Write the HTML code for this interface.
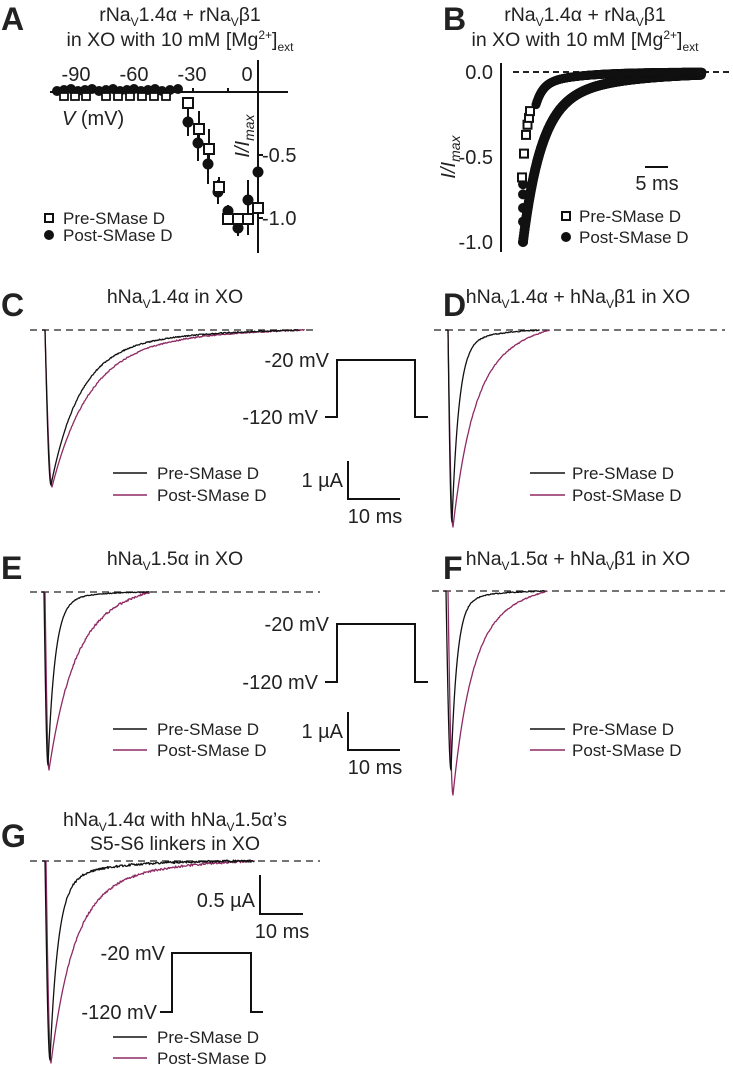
<!DOCTYPE html>
<html><head><meta charset="utf-8">
<style>
html,body{margin:0;padding:0;background:#fff;}
svg{display:block;font-family:"Liberation Sans",sans-serif;}
.t{font-size:19.5px;fill:#222;text-anchor:middle}
.L{font-size:32px;font-weight:bold;fill:#222}
.s{font-size:20px;fill:#222}
.lg{font-size:17px;fill:#222}
.ax{stroke:#111;stroke-width:2;fill:none}
.dash{stroke:#222;stroke-width:1.2;stroke-dasharray:7,5}
.bd{stroke:#222;stroke-width:2;stroke-dasharray:6,4}
</style></head><body>
<svg id="S" width="733" height="1065" viewBox="0 0 733 1065" xmlns="http://www.w3.org/2000/svg">
<!-- Panel A -->
<text class="L" x="1" y="30">A</text>
<text class="t" x="180" y="21">rNa<tspan font-size="12" dy="5">V</tspan><tspan dy="-5">1.4α + rNa</tspan><tspan font-size="12" dy="5">V</tspan><tspan dy="-5">β1</tspan></text>
<text class="t" x="180" y="46">in XO with 10 mM [Mg<tspan font-size="12" dy="-7">2+</tspan><tspan dy="7">]</tspan><tspan font-size="12" dy="5">ext</tspan></text>
<line class="ax" x1="50" y1="92" x2="288" y2="92"/>
<line class="ax" x1="258" y1="60" x2="258" y2="253"/>
<g class="ax" stroke-width="1.5">
<line x1="77" y1="88" x2="77" y2="92"/><line x1="135" y1="88" x2="135" y2="92"/><line x1="193" y1="88" x2="193" y2="92"/><line x1="228" y1="88" x2="228" y2="92"/>
<line x1="258" y1="155" x2="263" y2="155"/><line x1="258" y1="218" x2="263" y2="218"/>
</g>
<text class="s" x="76" y="81" text-anchor="middle">-90</text>
<text class="s" x="134" y="81" text-anchor="middle">-60</text>
<text class="s" x="192" y="81" text-anchor="middle">-30</text>
<text class="s" x="247" y="81" text-anchor="middle">0</text>
<text class="s" x="262" y="162">-0.5</text>
<text class="s" x="262" y="225">-1.0</text>
<text class="s" x="62" y="125"><tspan font-style="italic">V</tspan> (mV)</text>
<text class="s" transform="translate(249,136) rotate(-90)" text-anchor="middle" font-style="italic">I/I<tspan font-size="14" dy="5">max</tspan></text>
<g id="Apts"></g>
<rect x="45" y="214" width="8" height="8" fill="#fff" stroke="#111" stroke-width="2"/>
<text class="lg" x="63" y="224">Pre-SMase D</text>
<circle cx="49" cy="235" r="5" fill="#111"/>
<text class="lg" x="63" y="241">Post-SMase D</text>

<!-- Panel B -->
<text class="L" x="443" y="30">B</text>
<text class="t" x="585" y="21">rNa<tspan font-size="12" dy="5">V</tspan><tspan dy="-5">1.4α + rNa</tspan><tspan font-size="12" dy="5">V</tspan><tspan dy="-5">β1</tspan></text>
<text class="t" x="585" y="46">in XO with 10 mM [Mg<tspan font-size="12" dy="-7">2+</tspan><tspan dy="7">]</tspan><tspan font-size="12" dy="5">ext</tspan></text>
<line class="ax" x1="501" y1="63" x2="501" y2="252"/>
<line class="bd" x1="513" y1="72" x2="733" y2="72"/>
<text class="s" x="493" y="79" text-anchor="end">0.0</text>
<text class="s" x="493" y="164" text-anchor="end">-0.5</text>
<text class="s" x="493" y="249" text-anchor="end">-1.0</text>
<text class="s" transform="translate(455,157) rotate(-90)" text-anchor="middle" font-style="italic">I/I<tspan font-size="14" dy="5">max</tspan></text>
<g id="Bpts"></g>
<line class="ax" x1="645" y1="167" x2="668" y2="167"/>
<text class="s" x="657" y="190" text-anchor="middle">5 ms</text>
<rect x="562" y="212" width="8" height="8" fill="#fff" stroke="#111" stroke-width="2"/>
<text class="lg" x="579" y="222">Pre-SMase D</text>
<circle cx="566" cy="237" r="5" fill="#111"/>
<text class="lg" x="579" y="243">Post-SMase D</text>

<!-- Panel C -->
<text class="L" x="1" y="316">C</text>
<text class="t" x="175" y="303">hNa<tspan font-size="12" dy="5">V</tspan><tspan dy="-5">1.4α in XO</tspan></text>
<line class="dash" x1="30" y1="330" x2="318" y2="330"/>
<!-- Panel D -->
<text class="L" x="443" y="316">D</text>
<text class="t" x="578" y="303">hNa<tspan font-size="12" dy="5">V</tspan><tspan dy="-5">1.4α + hNa</tspan><tspan font-size="12" dy="5">V</tspan><tspan dy="-5">β1 in XO</tspan></text>
<line class="dash" x1="434" y1="330" x2="725" y2="330"/>
<!-- Panel E -->
<text class="L" x="1" y="579">E</text>
<text class="t" x="175" y="565">hNa<tspan font-size="12" dy="5">V</tspan><tspan dy="-5">1.5α in XO</tspan></text>
<line class="dash" x1="30" y1="592" x2="320" y2="592"/>
<!-- Panel F -->
<text class="L" x="443" y="579">F</text>
<text class="t" x="578" y="565">hNa<tspan font-size="12" dy="5">V</tspan><tspan dy="-5">1.5α + hNa</tspan><tspan font-size="12" dy="5">V</tspan><tspan dy="-5">β1 in XO</tspan></text>
<line class="dash" x1="432" y1="591" x2="725" y2="591"/>
<!-- Panel G -->
<text class="L" x="1" y="847">G</text>
<text class="t" x="175" y="826">hNa<tspan font-size="12" dy="5">V</tspan><tspan dy="-5">1.4α with hNa</tspan><tspan font-size="12" dy="5">V</tspan><tspan dy="-5">1.5α’s</tspan></text>
<text class="t" x="175" y="850">S5-S6 linkers in XO</text>
<line class="dash" x1="30" y1="861" x2="320" y2="861"/>

<g id="traces"></g>

<!-- voltage steps & scale bars -->
<g class="ax">
<polyline points="325,417 337,417 337,360 415,360 415,417 428,417"/>
<polyline points="348,461 348,499 400,499"/>
<polyline points="325,682 337,682 337,624 415,624 415,682 428,682"/>
<polyline points="348,712 348,750 400,750"/>
<polyline points="160,1012 172,1012 172,953 251,953 251,1012 263,1012"/>
<polyline points="260,875 260,914 303,914"/>
</g>
<text class="s" x="329" y="367" text-anchor="end" font-size="21">-20 mV</text>
<text class="s" x="318" y="424" text-anchor="end" font-size="21">-120 mV</text>
<text class="s" x="343" y="487" text-anchor="end" font-size="21">1 µA</text>
<text class="s" x="375" y="523" text-anchor="middle" font-size="21">10 ms</text>
<text class="s" x="329" y="631" text-anchor="end" font-size="21">-20 mV</text>
<text class="s" x="318" y="689" text-anchor="end" font-size="21">-120 mV</text>
<text class="s" x="343" y="738" text-anchor="end" font-size="21">1 µA</text>
<text class="s" x="375" y="774" text-anchor="middle" font-size="21">10 ms</text>
<text class="s" x="165" y="960" text-anchor="end" font-size="21">-20 mV</text>
<text class="s" x="157" y="1019" text-anchor="end" font-size="21">-120 mV</text>
<text class="s" x="255" y="907" text-anchor="end" font-size="21">0.5 µA</text>
<text class="s" x="282" y="938" text-anchor="middle" font-size="21">10 ms</text>

<!-- legends -->
<g stroke-width="1.5">
<line x1="113" y1="473" x2="147" y2="473" stroke="#111"/><line x1="113" y1="495" x2="147" y2="495" stroke="#8e2a63"/>
<line x1="530" y1="473" x2="565" y2="473" stroke="#111"/><line x1="530" y1="495" x2="565" y2="495" stroke="#8e2a63"/>
<line x1="113" y1="729" x2="147" y2="729" stroke="#111"/><line x1="113" y1="750" x2="147" y2="750" stroke="#8e2a63"/>
<line x1="530" y1="729" x2="565" y2="729" stroke="#111"/><line x1="530" y1="750" x2="565" y2="750" stroke="#8e2a63"/>
<line x1="113" y1="1037" x2="147" y2="1037" stroke="#111"/><line x1="113" y1="1058" x2="147" y2="1058" stroke="#8e2a63"/>
</g>
<g class="lg">
<text x="157" y="479">Pre-SMase D</text><text x="157" y="501">Post-SMase D</text>
<text x="572" y="479">Pre-SMase D</text><text x="572" y="501">Post-SMase D</text>
<text x="157" y="735">Pre-SMase D</text><text x="157" y="756">Post-SMase D</text>
<text x="572" y="735">Pre-SMase D</text><text x="572" y="756">Post-SMase D</text>
<text x="157" y="1043">Pre-SMase D</text><text x="157" y="1064">Post-SMase D</text>
</g>
</svg>
<script>
var NS="http://www.w3.org/2000/svg";
function el(p,n,a){var e=document.createElementNS(NS,n);for(var k in a)e.setAttribute(k,a[k]);p.appendChild(e);return e;}
var A=document.getElementById("Apts");
var flatC=[57,64,71,78,85,92,99,106,113,120,127,134,141,148,155,162,170,178];
flatC.forEach(function(x,i){el(A,"circle",{cx:x,cy:91-(i%3),r:5,fill:"#111"});});
var flatS=[64,75,86,106,118,130,142,154,166];
flatS.forEach(function(x){el(A,"rect",{x:x-4,y:93,width:8,height:7,fill:"#fff",stroke:"#111","stroke-width":1.8});});
var cir=[[188,122,14],[198,143,18],[208,164,20],[218,192,12],[228,211,6],[238,228,8],[248,200,20],[258,172,30]];
var sq=[[188,103,5],[199,129,18],[209,149,20],[219,187,10],[228,219,4],[238,219,6],[248,219,16],[258,208,6]];
cir.concat(sq).forEach(function(p){el(A,"line",{x1:p[0],y1:p[1]-p[2],x2:p[0],y2:p[1]+p[2],stroke:"#111","stroke-width":2});});
cir.forEach(function(p){el(A,"circle",{cx:p[0],cy:p[1],r:5.5,fill:"#111"});});
sq.forEach(function(p){el(A,"rect",{x:p[0]-5,y:p[1]-5,width:10,height:10,fill:"#fff",stroke:"#111","stroke-width":2});});
var B=document.getElementById("Bpts");
function by(v){return 72-170*v;}
[-1,-0.88,-0.8,-0.72,-0.66].forEach(function(v){el(B,"circle",{cx:523,cy:by(v),r:5,fill:"#111"});});
for(var x=522;x<=700;x+=0.4){
  var d=x-522;var v=-(0.8*Math.exp(-d/18)+0.2*Math.exp(-d/70));
  el(B,"circle",{cx:x+1,cy:by(v),r:5,fill:"#111"});
}
for(var x=520;x<=700;x+=0.4){
  var d=x-520;var v=-(0.9*Math.exp(-d/7)+0.1*Math.exp(-d/40));
  if(v>-0.2) el(B,"circle",{cx:x+2,cy:by(v),r:4.5,fill:"#111"});
}
[[522,-0.62],[524,-0.48],[526,-0.37],[527.5,-0.31],[529,-0.27],[530,-0.23]].forEach(function(p){
  el(B,"rect",{x:p[0]-4,y:by(p[1])-4,width:8,height:8,fill:"#fff",stroke:"#111","stroke-width":2});});
var T=document.getElementById("traces");
var seed=3;function rnd(){seed=(seed*9301+49297)%233280;return seed/233280-0.5;}
function S(dt,taus,ws){var s=0;for(var i=0;i<taus.length;i++)s+=ws[i]*Math.exp(-dt/taus[i]);return s;}
function trace(x0,xp,base,peak,taus,ws,xend,noise,col){
  var d="M"+(x0-3)+","+base+" L"+x0+","+base;
  for(var x=x0;x<=xp;x+=0.5){var f=(x-x0)/(xp-x0);f=Math.sin(f*Math.PI/2);d+=" L"+x.toFixed(1)+","+(base+(peak-base)*f).toFixed(1);}
  var D=xend-xp,se=S(D,taus,ws);
  for(var x=xp;x<=xend;x+=0.7){var dt=x-xp,s=S(dt,taus,ws)-se*dt/D;
    var n=noise*rnd()*(x>xp+15?1:0);
    d+=" L"+x.toFixed(1)+","+(base+(peak-base)*s+n).toFixed(1);}
  el(T,"path",{d:d,fill:"none",stroke:col,"stroke-width":1.3,"stroke-linejoin":"round"});
}
var P="#8e2a63",K="#111";
trace(45,52,330,487,[36,110],[0.85,0.15],305,1.2,P);
trace(45,51,330,485,[28,100],[0.85,0.15],300,1.2,K);
trace(448,453,330,527,[20,60],[0.8,0.2],550,1,P);
trace(448,452,330,522,[7,40],[0.93,0.07],540,1,K);
trace(45,49,592,770,[24,60],[0.8,0.2],150,2.2,P);
trace(44,48,592,765,[7,30],[0.93,0.07],150,0.8,K);
trace(448,453,591,795,[18,55],[0.8,0.2],548,1,P);
trace(446,451,591,770,[6,30],[0.93,0.07],545,1,K);
trace(46,51,861,1063,[22,70],[0.8,0.2],255,2.2,P);
trace(45,50,861,1060,[8,45],[0.88,0.12],255,2.2,K);
</script>
</body></html>
